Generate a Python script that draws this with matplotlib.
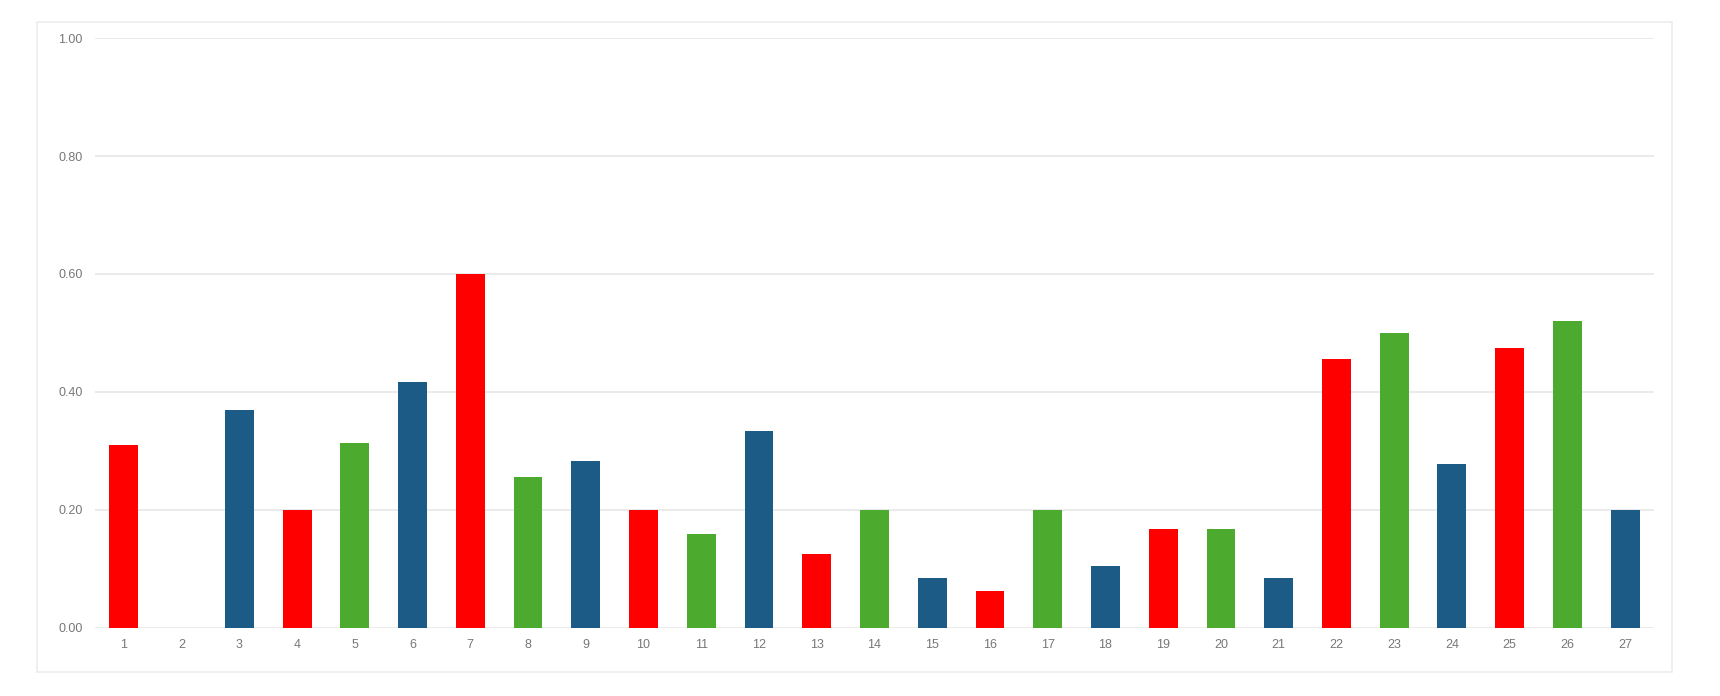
import matplotlib
matplotlib.use("Agg")
import matplotlib.pyplot as plt
from matplotlib.patches import Rectangle

categories = [str(i) for i in range(1, 28)]
values = [0.31, 0.0, 0.37, 0.20, 0.313, 0.417, 0.60, 0.256, 0.283, 0.20,
          0.159, 0.333, 0.125, 0.20, 0.084, 0.062, 0.20, 0.104, 0.167, 0.167,
          0.084, 0.455, 0.50, 0.278, 0.475, 0.52, 0.20]
color_keys = ["r", "b", "b", "r", "g", "b", "r", "g", "b", "r",
              "g", "b", "r", "g", "b", "r", "g", "b", "r", "g",
              "b", "r", "g", "b", "r", "g", "b"]
palette = {"r": "#FF0000", "g": "#4CAA2F", "b": "#1B5B85"}
yticks = [0.0, 0.2, 0.4, 0.6, 0.8, 1.0]

plt.rcParams['font.family'] = ['Liberation Sans', 'DejaVu Sans']

fig = plt.figure(figsize=(17.2, 6.96), dpi=100)
fig.patch.set_facecolor("white")
W, H = 1720, 696
# outer light border box
fig.patches.append(Rectangle((37 / W, 1 - 672 / H), (1672 - 37) / W, (672 - 22) / H,
                             transform=fig.transFigure, fill=False,
                             edgecolor="#ececec", linewidth=1.2))

ax = fig.add_axes([95 / W, 68.3 / H, (1654 - 95) / W, 589.5 / H])
x = list(range(1, 28))
ax.bar(x, values, width=0.5, color=[palette[k] for k in color_keys], zorder=3)
ax.set_xlim(0.5, 27.5)
ax.set_ylim(0, 1.0)
ax.set_yticks(yticks)
ax.set_yticklabels([f"{v:.2f}" for v in yticks])
ax.set_xticks(x)
ax.set_xticklabels(categories)
ax.grid(axis="y", color="#e8e8e8", linewidth=1.2, zorder=0)
ax.grid(axis="x", visible=False)
for s in ax.spines.values():
    s.set_visible(False)
ax.tick_params(axis="both", length=0, colors="#777777", labelsize=9)
ax.tick_params(axis="y", pad=9)
ax.tick_params(axis="x", pad=8)

fig.savefig("out.png", dpi=100, facecolor="white")
